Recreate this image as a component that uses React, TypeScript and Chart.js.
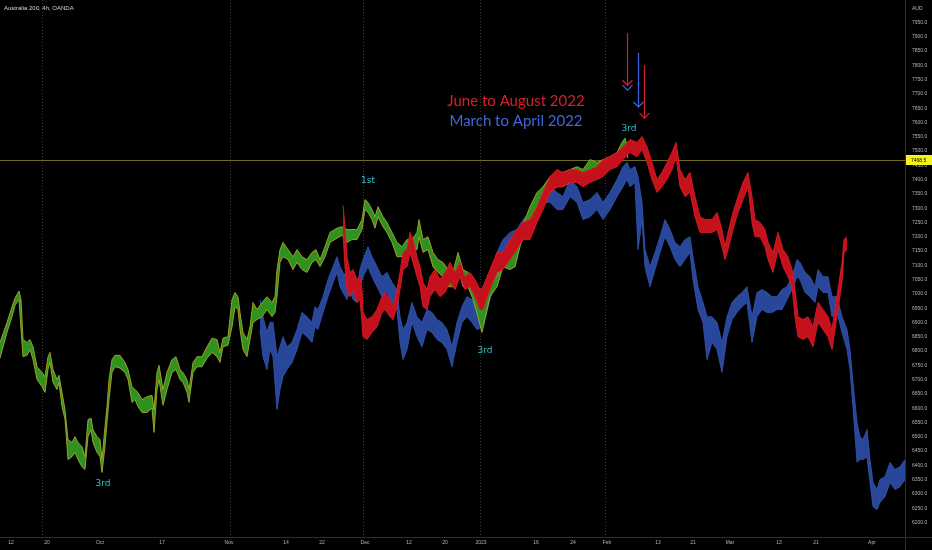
import { useEffect, useRef } from "react";
import { Chart, registerables } from "chart.js";

Chart.register(...registerables);

// 4h bars along the time axis (weekends skipped), price in AUD
const greenX = [0, 7, 12, 15, 19, 21, 23, 27, 30, 33, 37, 42, 45, 48, 50, 53, 57, 59, 62, 65, 68, 72, 75, 78, 82, 85, 88, 91, 93, 97, 100, 102, 105, 107, 109, 112, 115, 120, 125, 128, 132, 135, 138, 142, 147, 152, 154, 157, 159, 163, 167, 172, 176, 180, 183, 187, 189, 193, 197, 202, 207, 212, 217, 220, 223, 228, 232, 235, 238, 240, 243, 247, 250, 253, 257, 262, 267, 272, 275, 277, 280, 283, 288, 293, 297, 302, 307, 312, 316, 320, 325, 330, 337, 342, 347, 352, 357, 362, 365, 368, 372, 375, 378, 383, 387, 392, 397, 402, 407, 412, 417, 419, 423, 428, 433, 438, 443, 448, 453, 458, 463, 468, 473, 478, 482, 490, 497, 503, 510, 515, 520, 525, 530, 537, 543, 550, 557, 563, 570, 577, 583, 590, 597, 603, 610, 617, 622, 625, 628];
const greenHigh = [6830, 6900, 6955, 6985, 7010, 6980, 6840, 6830, 6840, 6815, 6745, 6725, 6710, 6780, 6795, 6735, 6700, 6715, 6655, 6595, 6490, 6480, 6500, 6480, 6465, 6430, 6560, 6565, 6525, 6500, 6490, 6420, 6535, 6605, 6700, 6770, 6785, 6785, 6760, 6735, 6675, 6665, 6655, 6630, 6640, 6645, 6595, 6725, 6750, 6665, 6725, 6770, 6780, 6735, 6725, 6700, 6665, 6760, 6780, 6780, 6815, 6845, 6840, 6795, 6845, 6850, 6980, 7005, 6990, 6935, 6865, 6840, 6885, 6970, 6945, 6970, 6990, 6970, 6990, 7085, 7155, 7180, 7155, 7130, 7155, 7130, 7120, 7145, 7155, 7120, 7165, 7215, 7230, 7235, 7225, 7225, 7225, 7260, 7330, 7320, 7295, 7270, 7305, 7270, 7250, 7215, 7180, 7165, 7190, 7190, 7215, 7260, 7190, 7200, 7145, 7120, 7110, 7085, 7075, 7145, 7085, 7075, 7025, 6990, 6955, 7050, 7060, 7130, 7130, 7155, 7215, 7260, 7305, 7355, 7375, 7410, 7425, 7425, 7435, 7445, 7435, 7470, 7460, 7470, 7480, 7495, 7530, 7545, 7510];
const greenLow = [6775, 6865, 6920, 6960, 6980, 6875, 6780, 6785, 6805, 6770, 6700, 6675, 6655, 6735, 6760, 6690, 6665, 6690, 6605, 6560, 6420, 6430, 6445, 6420, 6395, 6385, 6500, 6525, 6480, 6445, 6430, 6375, 6465, 6550, 6630, 6725, 6745, 6740, 6725, 6700, 6620, 6630, 6605, 6585, 6585, 6600, 6515, 6665, 6700, 6610, 6665, 6725, 6735, 6700, 6690, 6655, 6620, 6725, 6745, 6745, 6775, 6795, 6780, 6760, 6815, 6820, 6885, 6955, 6945, 6875, 6805, 6780, 6840, 6900, 6910, 6920, 6945, 6920, 6935, 6990, 7110, 7130, 7120, 7085, 7110, 7085, 7075, 7110, 7120, 7095, 7130, 7180, 7195, 7205, 7180, 7190, 7190, 7225, 7295, 7285, 7260, 7230, 7270, 7235, 7215, 7180, 7130, 7130, 7155, 7145, 7155, 7200, 7145, 7155, 7095, 7075, 7060, 7025, 7025, 7095, 7025, 7025, 6980, 6920, 6865, 6990, 7025, 7095, 7085, 7095, 7165, 7215, 7260, 7305, 7330, 7355, 7375, 7375, 7390, 7400, 7390, 7425, 7410, 7425, 7445, 7460, 7480, 7505, 7475];

// March to April 2022 overlay
const blueX = [260, 263, 267, 270, 273, 277, 280, 283, 287, 292, 297, 302, 307, 312, 315, 318, 323, 328, 333, 337, 340, 343, 347, 350, 353, 357, 360, 363, 368, 372, 377, 382, 387, 392, 397, 400, 403, 407, 412, 417, 422, 427, 432, 437, 442, 447, 452, 457, 462, 467, 472, 477, 483, 490, 497, 503, 510, 517, 523, 530, 537, 543, 550, 557, 563, 570, 577, 583, 590, 597, 603, 610, 617, 623, 627, 630, 635, 638, 642, 645, 650, 655, 660, 665, 670, 675, 680, 685, 690, 693, 698, 703, 707, 712, 717, 722, 727, 732, 737, 742, 747, 752, 757, 762, 767, 772, 777, 782, 787, 792, 797, 800, 805, 810, 815, 818, 823, 828, 832, 837, 842, 847, 850, 853, 857, 860, 863, 867, 870, 873, 877, 880, 885, 890, 895, 900, 905];
const blueHigh = [6980, 6920, 6865, 6900, 6900, 6780, 6815, 6850, 6815, 6830, 6875, 6935, 6920, 6900, 6955, 6945, 6990, 7050, 7095, 7130, 7095, 7075, 7060, 7075, 7050, 7015, 7085, 7120, 7165, 7130, 7095, 7060, 7075, 7040, 7015, 6920, 6875, 6900, 6970, 6920, 6900, 6945, 6935, 6910, 6900, 6875, 6815, 6900, 6955, 6990, 6980, 6955, 6970, 7060, 7145, 7190, 7215, 7225, 7260, 7285, 7330, 7375, 7375, 7355, 7340, 7400, 7375, 7320, 7330, 7355, 7320, 7355, 7400, 7445, 7460, 7435, 7445, 7410, 7320, 7155, 7095, 7145, 7200, 7260, 7225, 7180, 7165, 7190, 7200, 7130, 7025, 6970, 6920, 6920, 6900, 6830, 6920, 6970, 6990, 7005, 7025, 6920, 7005, 7015, 7005, 6990, 6990, 7015, 7025, 7060, 7120, 7110, 7075, 7060, 7025, 7085, 7060, 7060, 6990, 6990, 6920, 6875, 6805, 6690, 6550, 6500, 6490, 6525, 6420, 6340, 6315, 6350, 6360, 6410, 6385, 6395, 6420];
const blueLow = [6875, 6780, 6735, 6805, 6780, 6595, 6665, 6710, 6735, 6760, 6805, 6865, 6850, 6830, 6885, 6875, 6935, 6990, 7040, 7075, 7025, 7005, 6980, 7015, 6980, 6970, 7025, 7060, 7095, 7060, 7025, 6990, 7005, 6970, 6945, 6830, 6770, 6805, 6900, 6850, 6815, 6875, 6865, 6840, 6830, 6805, 6745, 6830, 6900, 6920, 6900, 6875, 6885, 6980, 7060, 7120, 7145, 7165, 7200, 7225, 7270, 7320, 7320, 7295, 7295, 7340, 7320, 7260, 7270, 7295, 7260, 7295, 7340, 7375, 7400, 7375, 7390, 7155, 7260, 7095, 7025, 7085, 7145, 7200, 7165, 7120, 7095, 7120, 7145, 7050, 6945, 6900, 6770, 6830, 6805, 6725, 6850, 6910, 6935, 6955, 6970, 6830, 6920, 6945, 6935, 6935, 6945, 6945, 6980, 7015, 7060, 7050, 7005, 6990, 6970, 7025, 7005, 7005, 6920, 6935, 6865, 6805, 6735, 6605, 6410, 6420, 6420, 6430, 6340, 6255, 6245, 6270, 6290, 6340, 6315, 6325, 6350];

// June to August 2022 overlay
const redX = [343, 345, 347, 350, 353, 357, 360, 362, 363, 367, 372, 377, 382, 385, 390, 393, 397, 400, 403, 407, 410, 413, 417, 420, 423, 427, 430, 435, 440, 445, 450, 455, 460, 465, 470, 475, 480, 483, 490, 497, 503, 510, 517, 523, 530, 537, 543, 550, 557, 563, 570, 577, 583, 590, 597, 603, 610, 617, 623, 630, 637, 642, 647, 652, 657, 662, 667, 672, 676, 680, 685, 690, 695, 700, 705, 712, 717, 722, 725, 728, 733, 738, 743, 748, 752, 755, 760, 765, 768, 773, 778, 783, 788, 792, 795, 798, 803, 808, 813, 818, 823, 828, 832, 835, 838, 842, 844, 847];
const redHigh = [7310, 7235, 7130, 7075, 7085, 7050, 7060, 7015, 6935, 6910, 6920, 6945, 6990, 7005, 6980, 6955, 7015, 7075, 7145, 7155, 7215, 7190, 7130, 7095, 7040, 7015, 7060, 7085, 7050, 7075, 7110, 7075, 7110, 7060, 7075, 7050, 7015, 7025, 7085, 7145, 7145, 7190, 7225, 7250, 7260, 7305, 7355, 7410, 7435, 7425, 7435, 7435, 7425, 7435, 7445, 7470, 7480, 7495, 7515, 7540, 7530, 7550, 7515, 7460, 7400, 7425, 7460, 7495, 7530, 7435, 7400, 7425, 7340, 7270, 7260, 7260, 7285, 7225, 7165, 7215, 7285, 7340, 7390, 7425, 7340, 7260, 7250, 7225, 7180, 7145, 7215, 7155, 7130, 7085, 7015, 6920, 6910, 6920, 6885, 6970, 6945, 6920, 6875, 6945, 7015, 7110, 7190, 7200];
const redLow = [7215, 7095, 7015, 6990, 7015, 6970, 6980, 6900, 6850, 6840, 6865, 6885, 6935, 6945, 6920, 6910, 6955, 7015, 7085, 7095, 7145, 7110, 7060, 7025, 6955, 6945, 6990, 7015, 6990, 7005, 7040, 7015, 7060, 7015, 7025, 6990, 6945, 6945, 7015, 7075, 7085, 7120, 7155, 7190, 7190, 7250, 7295, 7355, 7375, 7375, 7390, 7390, 7375, 7390, 7400, 7410, 7435, 7445, 7470, 7495, 7480, 7505, 7460, 7400, 7355, 7375, 7400, 7435, 7480, 7375, 7340, 7355, 7270, 7215, 7215, 7215, 7225, 7165, 7120, 7155, 7225, 7285, 7330, 7375, 7250, 7200, 7200, 7165, 7120, 7075, 7155, 7095, 7060, 7025, 6920, 6850, 6840, 6850, 6815, 6900, 6875, 6850, 6805, 6875, 6945, 7040, 7145, 7155];

const timeTicks = [11, 47, 100, 162, 229, 286, 322, 365, 409, 445, 481, 536, 573, 607, 658, 693, 730, 779, 816, 872];
const timeLabels = ["12", "20", "Oct", "17", "Nov", "14", "22", "Dec", "12", "20", "2023", "16", "24", "Feb", "13", "21", "Mar", "13", "21", "Apr"];
const sessionBreaks = [42, 230, 363, 480, 605];
const lastPrice = 7468.5;

const noteTexts = ["1st", "3rd", "3rd", "3rd"];
const noteX = [368, 103, 485, 629];
const noteY = [7395, 6335, 6800, 7577];

const legendTexts = ["June to August 2022", "March to April 2022"];
const legendX = [516, 516];
const legendY = [7675, 7605];

const arrowX = [627, 638, 644];
const arrowFrom = [7913, 7843, 7801];
const arrowTo = [7730, 7654, 7615];
const arrowKind = ["red", "blue", "red"];
const extraHeadX = [627];
const extraHeadY = [7713];

const RED = "#d3202b";
const BLUE = "#3c67dc";
const CYAN = "#2fc2cb";
const AXIS_TEXT = "#b2b5be";

function pts(xs: number[], ys: number[]) {
  return xs.map((x, i) => ({ x, y: ys[i] }));
}

function drawHead(ctx: CanvasRenderingContext2D, px: number, py: number, color: string) {
  ctx.strokeStyle = color;
  ctx.lineWidth = 1.2;
  ctx.beginPath();
  ctx.moveTo(px - 5, py - 5);
  ctx.lineTo(px, py);
  ctx.lineTo(px + 5, py - 5);
  ctx.stroke();
}

function noPadding(s: any) {
  s.paddingTop = 0;
  s.paddingBottom = 0;
  s.paddingLeft = 0;
  s.paddingRight = 0;
}

const overlay = {
  id: "overlay",
  beforeDraw(chart: any) {
    const { ctx, width, height } = chart;
    ctx.save();
    ctx.fillStyle = "#000";
    ctx.fillRect(0, 0, width, height);
    ctx.restore();
  },
  beforeDatasetsDraw(chart: any) {
    const { ctx, chartArea: a, scales } = chart;
    const x = scales.x;
    const y = scales.y;
    ctx.save();
    ctx.strokeStyle = "#3a3a3a";
    ctx.lineWidth = 1;
    ctx.setLineDash([1, 2]);
    sessionBreaks.forEach((s) => {
      const px = Math.round(x.getPixelForValue(s)) + 0.5;
      ctx.beginPath();
      ctx.moveTo(px, a.top);
      ctx.lineTo(px, a.bottom);
      ctx.stroke();
    });
    ctx.setLineDash([]);
    const py = Math.round(y.getPixelForValue(lastPrice)) + 0.5;
    ctx.strokeStyle = "#706c1c";
    ctx.beginPath();
    ctx.moveTo(a.left, py);
    ctx.lineTo(a.right, py);
    ctx.stroke();
    ctx.restore();
  },
  afterDraw(chart: any) {
    const { ctx, chartArea: a, scales, width, height } = chart;
    const x = scales.x;
    const y = scales.y;
    ctx.save();

    // axis borders
    ctx.strokeStyle = "#2e2e2e";
    ctx.lineWidth = 1;
    ctx.beginPath();
    ctx.moveTo(Math.round(a.right) + 0.5, 0);
    ctx.lineTo(Math.round(a.right) + 0.5, height);
    ctx.moveTo(0, Math.round(a.bottom) + 0.5);
    ctx.lineTo(width, Math.round(a.bottom) + 0.5);
    ctx.stroke();

    // last price tag
    const py = y.getPixelForValue(lastPrice);
    ctx.fillStyle = "#f4f21c";
    ctx.fillRect(a.right + 1, py - 5, width - a.right - 1, 10);
    ctx.fillStyle = "#000";
    ctx.font = "5px 'Liberation Sans'";
    ctx.textAlign = "left";
    ctx.textBaseline = "middle";
    ctx.fillText(lastPrice.toFixed(1), a.right + 6, py + 0.5);

    // title
    ctx.fillStyle = "#d1d4dc";
    ctx.font = "6px 'Liberation Sans'";
    ctx.textBaseline = "middle";
    ctx.fillText("Australia 200, 4h, OANDA", 4, 8);

    // notes
    ctx.fillStyle = CYAN;
    ctx.font = "9px 'DejaVu Sans'";
    ctx.textAlign = "center";
    noteTexts.forEach((t, i) => {
      ctx.fillText(t, x.getPixelForValue(noteX[i]), y.getPixelForValue(noteY[i]));
    });

    // legend
    ctx.font = "15px Lato";
    legendTexts.forEach((t, i) => {
      ctx.fillStyle = i === 0 ? RED : BLUE;
      ctx.fillText(t, x.getPixelForValue(legendX[i]), y.getPixelForValue(legendY[i]));
    });

    // arrows
    arrowX.forEach((ax, i) => {
      const color = arrowKind[i] === "red" ? RED : BLUE;
      const px = Math.round(x.getPixelForValue(ax)) + 0.5;
      const top = y.getPixelForValue(arrowFrom[i]);
      const tip = y.getPixelForValue(arrowTo[i]);
      ctx.strokeStyle = color;
      ctx.lineWidth = 1.2;
      ctx.beginPath();
      ctx.moveTo(px, top);
      ctx.lineTo(px, tip);
      ctx.stroke();
      drawHead(ctx, px, tip, color);
    });
    extraHeadX.forEach((hx, i) => {
      drawHead(ctx, Math.round(x.getPixelForValue(hx)) + 0.5, y.getPixelForValue(extraHeadY[i]), BLUE);
    });

    ctx.restore();
  },
};

export default function App() {
  const canvasRef = useRef<HTMLCanvasElement>(null);
  const chartRef = useRef<Chart | null>(null);

  useEffect(() => {
    if (!canvasRef.current) return;
    if (chartRef.current) chartRef.current.destroy();

    const band = (xs: number[], hi: number[], lo: number[], fill: string, edge: string) => [
      { data: pts(xs, hi), borderColor: edge, borderWidth: 0.9, pointRadius: 0, fill: false },
      { data: pts(xs, lo), borderColor: edge, borderWidth: 0.9, pointRadius: 0, fill: "-1", backgroundColor: fill },
    ];

    chartRef.current = new Chart(canvasRef.current, {
      type: "line",
      data: {
        datasets: [
          ...band(redX, redHigh, redLow, "#c4111b", "#dc1c26"),
          ...band(greenX, greenHigh, greenLow, "#2f921f", "#a9a82c"),
          ...band(blueX, blueHigh, blueLow, "#29479a", "#3252ab"),
        ] as any,
      },
      options: {
        animation: false,
        responsive: true,
        maintainAspectRatio: false,
        layout: { padding: 0 },
        plugins: {
          legend: { display: false },
          tooltip: { enabled: false },
        },
        scales: {
          x: {
            type: "linear",
            min: 0,
            max: 905,
            grid: { display: false, drawTicks: false },
            border: { display: false },
            afterBuildTicks: (s: any) => {
              s.ticks = timeTicks.map((v) => ({ value: v }));
            },
            afterFit: (s: any) => {
              s.height = 13;
              noPadding(s);
            },
            ticks: {
              autoSkip: false,
              maxRotation: 0,
              padding: 3,
              color: AXIS_TEXT,
              font: { size: 5, family: "'Liberation Sans'" },
              callback: (_v: any, i: number) => timeLabels[i],
            },
          },
          y: {
            type: "linear",
            position: "right",
            min: 6149,
            max: 8028.5,
            grid: { display: false, drawTicks: false },
            border: { display: false },
            afterFit: (s: any) => {
              s.width = 27;
              noPadding(s);
            },
            ticks: {
              stepSize: 50,
              includeBounds: false,
              padding: 7,
              color: AXIS_TEXT,
              font: { size: 5, family: "'Liberation Sans'" },
              callback: (v: any) => (v === 8000 ? "AUD" : v === 6150 ? "" : Number(v).toFixed(1)),
            },
          },
        },
      },
      plugins: [overlay],
    });

    return () => {
      if (chartRef.current) {
        chartRef.current.destroy();
        chartRef.current = null;
      }
    };
  }, []);

  return (
    <div style={{ position: "fixed", left: 0, top: 0, width: 932, height: 550, background: "#000" }}>
      <canvas ref={canvasRef} />
    </div>
  );
}
